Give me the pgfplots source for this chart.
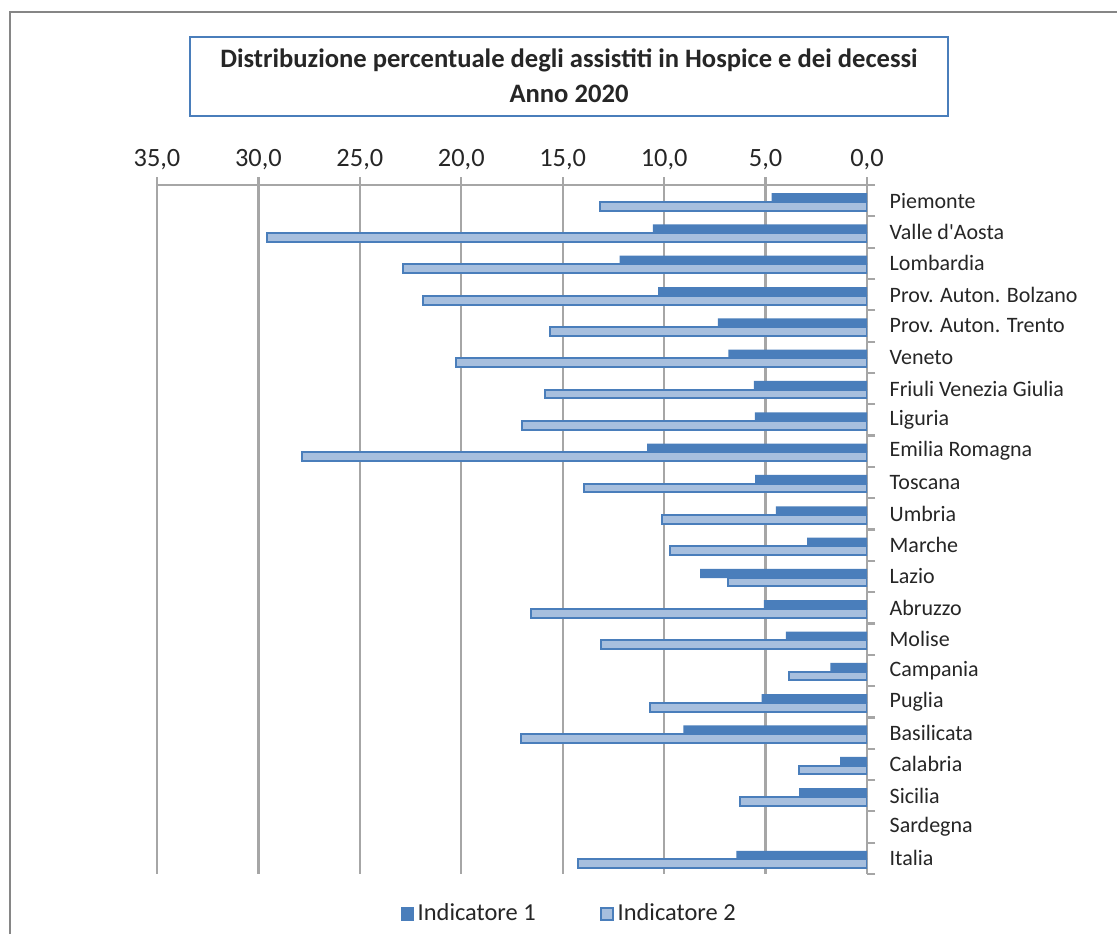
\documentclass[border=0pt]{standalone}
\usepackage{pgfplots}
\pgfplotsset{compat=1.18}
\usepackage{fontspec}
\setmainfont{Carlito}
\newfontfamily\plaincarlito{Carlito}
\definecolor{dblue}{HTML}{4A7EBB}
\definecolor{lblue}{HTML}{A7BFDE}
\definecolor{gridgray}{HTML}{A6A6A6}
\definecolor{framegray}{HTML}{868686}
\definecolor{txt}{HTML}{262626}
\begin{document}
\begin{tikzpicture}
\useasboundingbox (0,0) rectangle (558.5pt,467pt);
\fill[white] (0,0) rectangle (558.5pt,467pt);
\draw[framegray, line width=1pt] (5pt,0) -- (5pt,461pt) -- (558.5pt,461pt);
\draw[dblue, line width=1pt] (95pt,448.5pt) rectangle (474pt,409pt);
\node[font=\fontsize{13.3}{17.5}\selectfont\bfseries, text=txt, align=center] at (284.5pt,429pt)
  {Distribuzione percentuale degli assistiti in Hospice e dei decessi\\Anno 2020};
\begin{axis}[
  at={(78.5pt,374.5pt)}, anchor=north west,
  scale only axis, width=355pt, height=344.5pt,
  xmin=0, xmax=35, ymin=-0.5, ymax=21.5,
  x dir=reverse, y dir=reverse,
  axis x line*=top, axis y line*=right,
  axis line style={gridgray, line width=1.1pt},
  every tick/.style={gridgray, line width=1.1pt},
  tick align=outside, major tick length=4pt,
  xtick={0,5,...,35},
  xticklabels={{0,0},{5,0},{10,0},{15,0},{20,0},{25,0},{30,0},{35,0}},
  xticklabel style={font=\fontsize{13.2}{15}\selectfont, text=txt},
  xmajorgrids, grid style={gridgray, line width=1.1pt},
  ytick={-0.5,0.5,1.5,2.5,3.5,4.5,5.5,6.5,7.5,8.5,9.5,10.5,11.5,12.5,13.5,14.5,15.5,16.5,17.5,18.5,19.5,20.5,21.5},
  yticklabels={Piemonte,{Valle d{\plaincarlito'}Aosta},Lombardia,Prov. Auton. Bolzano,Prov. Auton. Trento,Veneto,Friuli Venezia Giulia,Liguria,Emilia Romagna,Toscana,Umbria,Marche,Lazio,Abruzzo,Molise,Campania,Puglia,Basilicata,Calabria,Sicilia,Sardegna,Italia,{}},
  yticklabel style={font=\fontsize{11}{13}\selectfont, text=txt, anchor=west, yshift=-7.83pt, xshift=3.8pt},
  xbar,
  legend style={draw=none, at={(0.582,-0.058)}, anchor=center, legend columns=2,
    font=\fontsize{12.2}{14}\selectfont, text=txt,
    /tikz/every even column/.append style={column sep=30pt}},
]
\addplot[fill=dblue, draw=none, bar width=4.6pt, bar shift=1.5pt,
  legend image code/.code={\fill[dblue] (0pt,-3.5pt) rectangle (6.5pt,3.5pt);}]
  coordinates {(4.70,0) (10.56,1) (12.19,2) (10.30,3) (7.35,4) (6.84,5) (5.58,6) (5.53,7) (10.84,8) (5.51,9) (4.49,10) (2.95,11) (8.23,12) (5.09,13) (4.00,14) (1.81,15) (5.19,16) (9.05,17) (1.33,18) (3.35,19) (6.44,21)};
\addlegendentry{Indicatore 1}
\addplot[fill=lblue, draw=dblue, line width=1pt, bar width=4.4pt, bar shift=-2.75pt,
  legend image code/.code={\draw[fill=lblue, draw=dblue, line width=0.9pt] (0pt,-3.1pt) rectangle (6.1pt,3.1pt);}]
  coordinates {(13.14,0) (29.58,1) (22.88,2) (21.91,3) (15.65,4) (20.26,5) (15.88,6) (17.00,7) (27.84,8) (13.93,9) (10.12,10) (9.70,11) (6.86,12) (16.56,13) (13.12,14) (3.86,15) (10.72,16) (17.07,17) (3.35,18) (6.28,19) (14.23,21)};
\addlegendentry{Indicatore 2}
\end{axis}
\end{tikzpicture}
\end{document}
